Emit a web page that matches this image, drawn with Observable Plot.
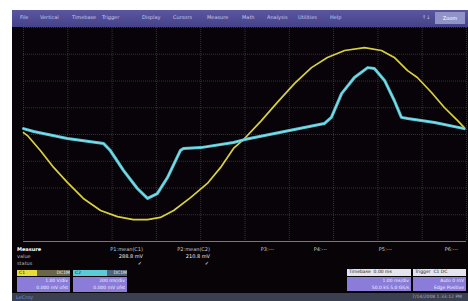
<!DOCTYPE html>
<html><head><meta charset="utf-8">
<script src="https://cdn.jsdelivr.net/npm/d3@7"></script>
<script src="https://cdn.jsdelivr.net/npm/@observablehq/plot@0.6"></script>
<style>
body{margin:0;background:#fff;font-family:"DejaVu Sans",sans-serif;}
#wrap{position:relative;width:468px;height:301px;overflow:hidden;background:#fff;}
.abs{position:absolute;white-space:nowrap;}
#menu{left:12px;top:10px;width:456px;height:17px;background:linear-gradient(#5a57a0,#45428a);}
#menu span{position:absolute;top:4px;font-size:5px;color:#c8c8e8;}
#plot{left:12px;top:27px;}
#panel{left:12px;top:242px;width:456px;height:51px;background:#070307;}
#status{left:12px;top:293px;width:456px;height:8px;background:#3a4050;}
.t{position:absolute;font-size:5px;color:#d8d8d8;white-space:nowrap;}
.box{position:absolute;height:22px;}
.hd{position:absolute;top:0;height:6px;font-size:4.5px;line-height:6px;color:#222;}
.bd{position:absolute;top:7px;height:15px;background:#8a7cd8;font-size:4.5px;line-height:7px;color:#f0f0ff;text-align:right;padding-right:2px;box-sizing:border-box;}
</style></head>
<body><div id="wrap">
<div id="menu" class="abs"></div>
<div id="plot" class="abs"></div>
<div id="panel" class="abs"></div>
<div id="status" class="abs"></div>
</div>
<script>
// Menu labels
const menuItems = ["File","Vertical","Timebase","Trigger","Display","Cursors","Measure","Math","Analysis","Utilities","Help"];
const menuX = [8,28,60,90,130,161,195,230,255,286,318];

// Yellow trace (C1), x in divisions 0..10, y in divisions -4..4
const c1x = [0,0.09,0.38,0.68,0.99,1.35,1.74,2.12,2.48,2.80,3.09,3.39,3.77,4.15,4.45,4.74,4.99,5.37,5.73,6.12,6.50,6.86,7.25,7.70,8.08,8.37,8.67,8.89,9.21,9.50,9.80,9.95];
const c1y = [0.07,-0.04,-0.6,-1.23,-1.79,-2.39,-2.84,-3.07,-3.18,-3.18,-3.10,-2.84,-2.36,-1.83,-1.23,-0.52,-0.15,0.52,1.20,1.91,2.50,2.88,3.14,3.25,3.14,2.88,2.39,2.13,1.57,1.01,0.52,0.26];

// Cyan trace (C2)
const c2x = [0,0.23,0.99,1.81,1.96,2.26,2.57,2.80,3.02,3.25,3.54,3.61,4.0,4.74,4.99,5.89,6.79,6.95,7.18,7.47,7.77,7.92,8.15,8.37,8.53,8.67,9.28,9.95];
const c2y = [0.22,0.11,-0.15,-0.34,-0.6,-1.35,-2.02,-2.39,-2.21,-1.61,-0.6,-0.52,-0.49,-0.30,-0.19,0.11,0.41,0.64,1.53,2.13,2.50,2.47,2.02,1.27,0.64,0.60,0.45,0.22];

const xTicks = [0,1,2,3,4,5,6,7,8,9,10];
const yTicks = [-4,-3,-2,-1,0,1,2,3,4];

const measNames = ["P1:mean(C1)","P2:mean(C2)","P3:---","P4:---","P5:---","P6:---"];
const measVals = ["288.8 mV","210.8 mV","","","",""];

const c1 = c1x.map((x,i)=>({x,y:c1y[i]}));
const c2 = c2x.map((x,i)=>({x,y:c2y[i]}));

const chart = Plot.plot({
  width:456, height:215,
  marginLeft:11, marginRight:2, marginTop:0, marginBottom:1,
  style:{background:"#080308"},
  x:{domain:[0,10], axis:null},
  y:{domain:[-4,4], axis:null},
  marks:[
    Plot.ruleX(xTicks,{stroke:"#5a4c4c",strokeOpacity:0.6,strokeDasharray:"1,1"}),
    Plot.ruleY(yTicks,{stroke:"#5a4c4c",strokeOpacity:0.6,strokeDasharray:"1,1"}),
    Plot.ruleY([-4],{stroke:"#777",strokeWidth:1}),
    Plot.line(c1,{x:"x",y:"y",stroke:"#d9d13c",strokeWidth:1.7}),
    Plot.line(c2,{x:"x",y:"y",stroke:"#55c6d4",strokeWidth:3}),
    Plot.line(c2,{x:"x",y:"y",stroke:"#9ae4ec",strokeWidth:0.9})
  ]
});
document.getElementById("plot").appendChild(chart);

const menu = document.getElementById("menu");
menuItems.forEach((m,i)=>{const s=document.createElement("span");s.textContent=m;s.style.left=menuX[i]+"px";menu.appendChild(s);});
menu.insertAdjacentHTML("beforeend",`<span style="left:410px">\u2191\u2193</span><div style="position:absolute;left:423px;top:2px;width:30px;height:12px;background:#8f93c8;font-size:5px;color:#fff;line-height:12px;text-align:center">Zoom</div>`);

const panel = document.getElementById("panel");
let h = `<div class="t" style="left:5px;top:4px;color:#fff;font-weight:bold">Measure</div>
<div class="t" style="left:5px;top:11px;color:#bbb">value</div>
<div class="t" style="left:5px;top:18px;color:#bbb">status</div>`;
const measX = [131,198,262,315,380,446];
measNames.forEach((n,i)=>{
  h += `<div class="t" style="right:${456-measX[i]}px;top:4px;color:#ccc">${n}</div>`;
  if(measVals[i]) h += `<div class="t" style="right:${456-measX[i]}px;top:11px;color:#eee">${measVals[i]}</div>
  <div class="t" style="right:${456-measX[i]+1}px;top:18px;color:#eee">\u2713</div>`;
});
h += `<div class="box" style="left:5px;top:28px;width:53px">
 <div class="hd" style="left:0;width:20px;background:#e6dc3a;padding-left:2px">C1</div>
 <div class="hd" style="left:20px;width:33px;background:#6a6648;color:#eee;text-align:right">DC1M</div>
 <div class="bd" style="left:0;width:53px">1.00 V/div<br>0.000 mV ofst</div></div>
<div class="box" style="left:61px;top:28px;width:54px">
 <div class="hd" style="left:0;width:34px;background:#5ccbd8;padding-left:2px">C2</div>
 <div class="hd" style="left:34px;width:20px;background:#4f6680;color:#eee;text-align:right">DC1M</div>
 <div class="bd" style="left:0;width:54px">200 mV/div<br>0.000 mV ofst</div></div>
<div class="box" style="left:335px;top:27px;width:64px">
 <div class="hd" style="left:0;width:64px;height:7px;background:#e4e4ee;padding-left:2px;box-sizing:border-box">Timebase &nbsp;0.00 ms</div>
 <div class="bd" style="left:0;top:8px;width:64px;height:14px">1.00 ms/div<br>50.0 kS 5.0 GS/s</div></div>
<div class="box" style="left:401px;top:27px;width:53px">
 <div class="hd" style="left:0;width:53px;height:7px;background:#e4e4ee;padding-left:2px;box-sizing:border-box">Trigger &nbsp;C1 DC</div>
 <div class="bd" style="left:0;top:8px;width:53px;height:14px">Auto 0 mV<br>Edge Positive</div></div>`;
panel.innerHTML = h;

document.getElementById("status").innerHTML = `<div class="t" style="left:4px;top:1px;color:#6a8ad8;font-size:5px">LeCroy</div>
<div class="t" style="right:6px;top:1px;color:#aab;font-size:4.5px">7/14/2008 1:33:12 PM</div>`;
</script>
</body></html>
